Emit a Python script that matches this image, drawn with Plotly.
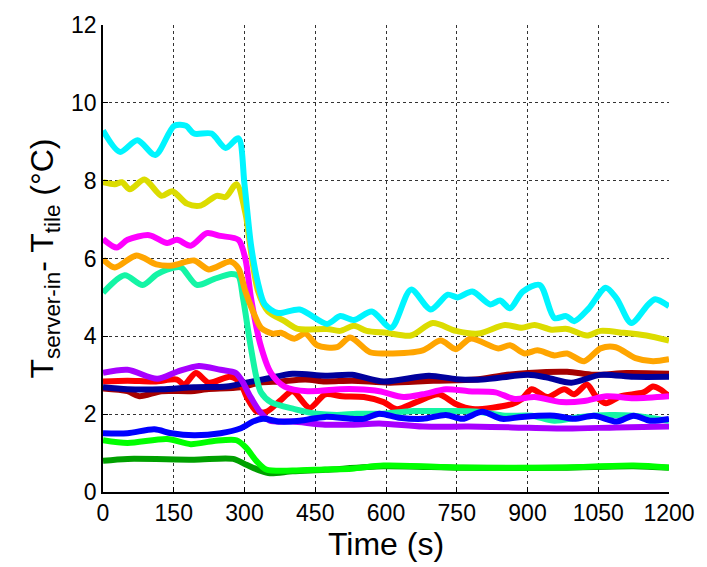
import plotly.graph_objects as go

# ---- data (time in s, temperature difference in °C) ----
t_cyan = [0, 36, 73, 111, 151, 176, 193, 230, 260, 287, 300, 314, 328, 343, 371, 417, 475, 503, 532, 570, 611, 653, 695, 731, 752, 783, 821, 842, 863, 890, 926, 957, 982, 999, 1030, 1066, 1089, 1120, 1156, 1171, 1200]
v_cyan = [9.29, 8.74, 9.04, 8.66, 9.41, 9.41, 9.21, 9.21, 8.84, 9.09, 7.9, 6.33, 5.4, 4.82, 4.6, 4.69, 4.32, 4.52, 4.42, 4.64, 4.22, 5.2, 4.69, 5.07, 5.0, 5.15, 4.82, 4.92, 4.72, 5.15, 5.32, 4.47, 4.52, 4.39, 4.72, 5.25, 4.97, 4.34, 4.82, 4.95, 4.77]

t_yellow = [0, 25, 40, 57, 88, 124, 147, 178, 207, 241, 260, 283, 302, 314, 329, 350, 385, 413, 475, 503, 532, 559, 601, 653, 699, 748, 796, 852, 888, 915, 951, 984, 1026, 1055, 1104, 1152, 1200]
v_yellow = [7.96, 7.91, 7.96, 7.78, 8.03, 7.61, 7.73, 7.41, 7.36, 7.61, 7.58, 7.91, 7.16, 6.15, 5.15, 4.64, 4.39, 4.19, 4.19, 4.14, 4.27, 4.14, 4.09, 4.02, 4.34, 4.14, 4.07, 4.29, 4.22, 4.29, 4.17, 4.19, 4.02, 4.14, 4.09, 4.02, 3.89]

t_orange = [0, 25, 71, 113, 147, 193, 224, 270, 287, 302, 318, 335, 360, 377, 406, 429, 454, 496, 524, 566, 601, 678, 716, 748, 779, 838, 863, 894, 921, 957, 984, 1020, 1055, 1087, 1129, 1166, 1200]
v_orange = [5.98, 5.77, 6.08, 5.85, 5.82, 5.95, 5.72, 5.92, 5.75, 5.15, 4.64, 4.22, 4.07, 4.09, 3.94, 4.07, 3.77, 3.72, 3.97, 3.59, 3.56, 3.64, 3.89, 3.67, 3.94, 3.69, 3.77, 3.56, 3.64, 3.51, 3.56, 3.36, 3.69, 3.72, 3.44, 3.36, 3.41]

t_magenta = [0, 29, 52, 98, 136, 157, 186, 220, 249, 287, 302, 314, 333, 356, 385, 434, 503, 538, 586, 637, 678, 727, 775, 832, 873, 915, 972, 1020, 1068, 1125, 1200]
v_magenta = [6.5, 6.28, 6.48, 6.6, 6.4, 6.48, 6.33, 6.65, 6.58, 6.48, 5.98, 4.97, 3.82, 3.06, 2.71, 2.59, 2.64, 2.64, 2.59, 2.44, 2.51, 2.64, 2.59, 2.56, 2.39, 2.44, 2.31, 2.34, 2.46, 2.41, 2.46]

t_spring = [0, 46, 84, 115, 151, 166, 199, 235, 272, 287, 297, 312, 325, 335, 356, 406, 454, 496, 538, 586, 658, 727, 796, 852, 909, 957, 1013, 1076, 1125, 1200]
v_spring = [5.12, 5.57, 5.32, 5.6, 5.77, 5.77, 5.32, 5.47, 5.6, 5.55, 4.97, 3.82, 2.96, 2.56, 2.31, 2.13, 2.01, 1.98, 2.01, 2.01, 2.08, 2.08, 2.06, 1.96, 1.96, 1.83, 1.93, 1.98, 1.96, 1.83]

t_purple = [0, 52, 115, 157, 203, 249, 281, 293, 312, 333, 354, 402, 471, 528, 586, 678, 775, 867, 984, 1089, 1200]
v_purple = [3.06, 3.14, 2.91, 3.09, 3.24, 3.14, 3.06, 2.89, 2.46, 2.06, 1.83, 1.81, 1.73, 1.73, 1.76, 1.68, 1.68, 1.66, 1.63, 1.66, 1.68]

t_red = [0, 52, 109, 157, 172, 197, 224, 270, 291, 304, 325, 346, 375, 402, 438, 471, 507, 553, 595, 622, 664, 712, 748, 783, 867, 888, 909, 942, 978, 999, 1026, 1045, 1066, 1097, 1146, 1166, 1181, 1200]
v_red = [2.84, 2.86, 2.84, 2.89, 2.76, 3.06, 2.81, 2.96, 2.81, 2.46, 2.08, 2.06, 2.34, 2.59, 2.16, 2.51, 2.46, 2.44, 2.31, 2.13, 2.31, 2.51, 2.26, 2.13, 2.26, 2.39, 2.64, 2.44, 2.64, 2.51, 2.76, 2.46, 2.28, 2.46, 2.56, 2.71, 2.64, 2.46]

t_darkred = [0, 52, 77, 124, 186, 220, 291, 333, 375, 429, 471, 528, 608, 700, 790, 850, 901, 984, 1041, 1110, 1200]
v_darkred = [2.66, 2.59, 2.46, 2.59, 2.59, 2.64, 2.69, 2.81, 2.84, 2.89, 2.84, 2.86, 2.81, 2.86, 2.89, 3.0, 3.06, 3.09, 3.01, 3.06, 3.04]

t_navy = [0, 52, 124, 193, 262, 304, 346, 402, 471, 528, 595, 691, 750, 804, 901, 942, 993, 1055, 1125, 1200]
v_navy = [2.69, 2.64, 2.64, 2.69, 2.71, 2.81, 2.91, 3.04, 2.99, 3.01, 2.84, 2.99, 2.9, 2.89, 3.01, 2.94, 2.81, 3.01, 2.96, 2.96]

t_blue = [0, 52, 109, 145, 193, 249, 291, 318, 339, 375, 417, 471, 528, 553, 586, 628, 678, 727, 762, 804, 846, 888, 957, 999, 1041, 1089, 1125, 1160, 1200]
v_blue = [1.51, 1.51, 1.61, 1.51, 1.46, 1.51, 1.63, 1.81, 1.88, 1.81, 1.83, 1.93, 1.88, 1.88, 2.01, 1.91, 1.88, 1.98, 1.88, 2.06, 1.88, 1.93, 1.96, 1.88, 1.96, 1.81, 1.96, 1.83, 1.88]

t_darkgreen = [0, 52, 193, 276, 304, 333, 354, 402, 471, 595, 762, 972, 1125, 1200]
v_darkgreen = [0.80, 0.85, 0.83, 0.85, 0.70, 0.55, 0.48, 0.53, 0.57, 0.66, 0.62, 0.62, 0.66, 0.62]

t_green = [0, 52, 136, 186, 235, 283, 304, 325, 346, 402, 471, 528, 595, 762, 972, 1125, 1200]
v_green = [1.33, 1.26, 1.36, 1.23, 1.31, 1.33, 1.13, 0.80, 0.58, 0.55, 0.58, 0.60, 0.68, 0.63, 0.63, 0.68, 0.63]

x_ticks = [0, 150, 300, 450, 600, 750, 900, 1050, 1200]
y_ticks = [0, 2, 4, 6, 8, 10, 12]

series = [
    (t_darkred, v_darkred, "#A50000"),
    (t_red, v_red, "#FF0000"),
    (t_navy, v_navy, "#00009C"),
    (t_purple, v_purple, "#A800FF"),
    (t_spring, v_spring, "#14F5A5"),
    (t_blue, v_blue, "#0000FF"),
    (t_magenta, v_magenta, "#FF00FF"),
    (t_orange, v_orange, "#FFA500"),
    (t_yellow, v_yellow, "#DCDC00"),
    (t_cyan, v_cyan, "#00F5FF"),
    (t_darkgreen, v_darkgreen, "#00A000"),
    (t_green, v_green, "#00FF00"),
]

fig = go.Figure()
for tx, vy, col in series:
    fig.add_trace(go.Scatter(
        x=tx, y=vy, mode="lines",
        line=dict(color=col, width=6, shape="spline", smoothing=0.8),
        showlegend=False, hoverinfo="skip"))

font_family = "Liberation Sans, Arial, sans-serif"

fig.update_layout(
    width=707, height=567,
    margin=dict(l=103, r=31, t=17, b=72),
    paper_bgcolor="white", plot_bgcolor="white",
    font=dict(family=font_family, color="black"),
)
fig.update_xaxes(
    range=[0, 1200], tickvals=x_ticks, ticktext=[str(v) for v in x_ticks],
    showgrid=True, gridcolor="#333333", gridwidth=1, griddash="3px,3px",
    showline=True, linecolor="black", linewidth=1.5, mirror=False,
    ticks="inside", ticklen=5, tickcolor="black",
    tickfont=dict(size=23, family=font_family),
    title=dict(text="Time (s)", font=dict(size=32, family=font_family), standoff=6),
    zeroline=False,
)
fig.update_yaxes(
    range=[0, 12], tickvals=y_ticks, ticktext=[str(v) for v in y_ticks],
    showgrid=True, gridcolor="#333333", gridwidth=1, griddash="3px,3px",
    showline=True, linecolor="black", linewidth=1.5, mirror=False,
    ticks="inside", ticklen=5, tickcolor="black",
    tickfont=dict(size=23, family=font_family),
    title=dict(text="T<sub>server-in</sub>- T<sub>tile</sub> (°C)",
               font=dict(size=32, family=font_family), standoff=8),
    zeroline=False,
)

fig.write_html("out.html")
